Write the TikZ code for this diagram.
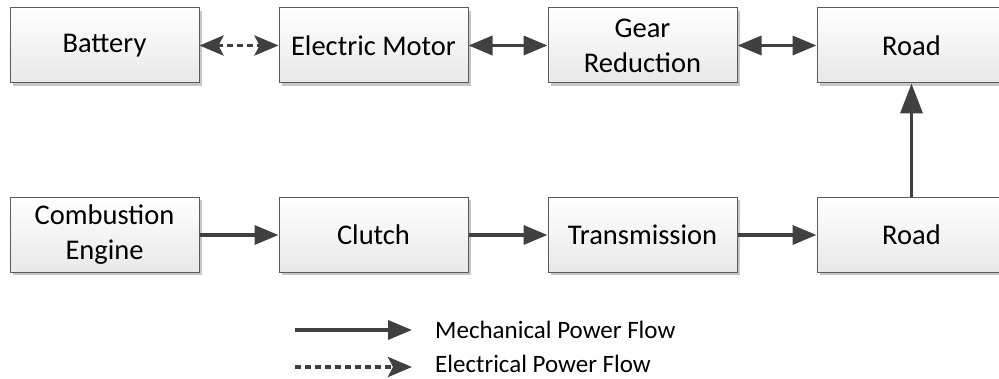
\documentclass[tikz,border=0pt]{standalone}
\usepackage{fontspec}
\setmainfont{Carlito}
\usetikzlibrary{arrows.meta,shadows}
\definecolor{arr}{HTML}{404040}
\definecolor{bord}{HTML}{5A5A5A}
\begin{document}
\begin{tikzpicture}[x=1pt,y=-1pt,
  box/.style={draw=bord, line width=1pt, top color=white, bottom color=black!9,
    minimum width=189pt, minimum height=75pt, inner sep=0pt, align=center,
    font=\fontsize{28.5}{35}\selectfont,
    drop shadow={shadow xshift=3pt, shadow yshift=-3pt, fill=black!22, opacity=1}},
  flow/.style={draw=arr, line width=3.6pt, -{Triangle[length=24pt,width=19pt]}},
  flowup/.style={draw=arr, line width=3.6pt, -{Triangle[length=30pt,width=22pt]}},
  bflow/.style={draw=arr, line width=3.6pt, {Triangle[length=24pt,width=19pt]}-{Triangle[length=24pt,width=19pt]}},
  eflow/.style={draw=arr, line width=3.6pt, dash pattern=on 6pt off 4pt,
    {Stealth[length=24pt,width=20pt,inset=5pt]}-{Stealth[length=24pt,width=20pt,inset=5pt]}},
  eflowone/.style={draw=arr, line width=3.6pt, dash pattern=on 6pt off 4pt,
    -{Stealth[length=24pt,width=20pt,inset=5pt]}},
  legtext/.style={anchor=base west, inner sep=0pt, font=\fontsize{25}{30}\selectfont}
]
\useasboundingbox (0,0) rectangle (999,379);
% top row
\node[box] (bat) at (104.5,45.5) {Battery};
\node[box] (em) at (373.5,45.5) {Electric Motor};
\node[box] (gr) at (642.5,45.5) {Gear\\Reduction};
\node[box] (rd1) at (911.5,45.5) {Road};
% bottom row
\node[box] (ce) at (104.5,235) {Combustion\\Engine};
\node[box] (cl) at (373.5,235) {Clutch};
\node[box] (tr) at (642.5,235) {Transmission};
\node[box] (rd2) at (911.5,235) {Road};
% connectors
\draw[eflow] (bat.east) -- (em.west);
\draw[bflow] (em.east) -- (gr.west);
\draw[bflow] (gr.east) -- (rd1.west);
\draw[flow] (ce.east) -- (cl.west);
\draw[flow] (cl.east) -- (tr.west);
\draw[flow] (tr.east) -- (rd2.west);
\draw[flowup] (rd2.north) -- (rd1.south);
% legend
\coordinate (m1) at (295,330);
\coordinate (m2) at (412,330);
\coordinate (e1) at (295,367);
\coordinate (e2) at (412,367);
\draw[flow] (m1) -- (m2);
\draw[eflowone] (e1) -- (e2);
\node[legtext] (mt) at (435,338) {Mechanical Power Flow};
\node[legtext] (et) at (435,373) {Electrical Power Flow};
\end{tikzpicture}
\end{document}
